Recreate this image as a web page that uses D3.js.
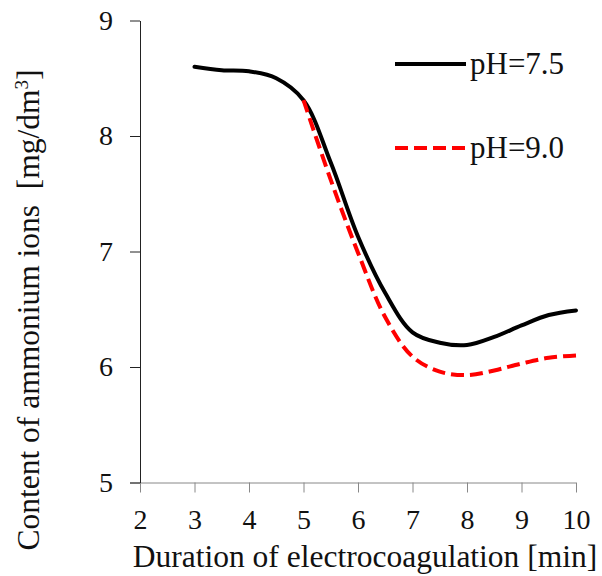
<!DOCTYPE html>
<html lang="en">
<head>
  <meta charset="UTF-8">
  <title>Ammonium ions vs electrocoagulation time</title>
  <script src="https://d3js.org/d3.v7.min.js"></script>
  <style>
    body { margin: 0; background: #fff; }
  </style>
</head>
<body>
<svg id="chart" width="602" height="576"></svg>
<script>
  // data
  const xTicks = [2, 3, 4, 5, 6, 7, 8, 9, 10];
  const yTicks = [5, 6, 7, 8, 9];
  const timeA = [3, 3.5, 4, 4.5, 5, 5.5, 6, 6.5, 7, 7.5, 8, 8.5, 9, 9.5, 10];
  const ph75 = [8.60, 8.57, 8.56, 8.50, 8.31, 7.77, 7.13, 6.64, 6.30, 6.21, 6.19, 6.26, 6.36, 6.45, 6.49];
  const timeB = [5, 5.5, 6, 6.5, 7, 7.5, 8, 8.5, 9, 9.5, 10];
  const ph90 = [8.31, 7.62, 6.99, 6.43, 6.09, 5.96, 5.93, 5.97, 6.03, 6.08, 6.10];
  const seriesNames = ["pH=7.5", "pH=9.0"];

  const FONT = "Liberation Serif";

  const svg = d3.select("#chart");
  const margin = { top: 20.5, right: 26, bottom: 93.5, left: 140 };
  const width = 602 - margin.left - margin.right;
  const height = 576 - margin.top - margin.bottom;

  const x = d3.scaleLinear().domain([2, 10]).range([0, width]);
  const y = d3.scaleLinear().domain([5, 9]).range([height, 0]);

  const g = svg.append("g")
    .attr("transform", "translate(" + margin.left + "," + margin.top + ")");

  // x axis, ticks point down
  const xAxis = g.append("g")
    .attr("transform", "translate(0," + height + ")")
    .call(d3.axisBottom(x).tickValues(xTicks).tickFormat(d3.format("d"))
      .tickSize(10).tickPadding(17).tickSizeOuter(0));
  xAxis.select(".domain").attr("stroke", "#888").attr("d", "M-10,0.5H" + width);
  xAxis.selectAll(".tick line").attr("stroke", "#888");

  // y axis
  const yAxis = g.append("g")
    .call(d3.axisLeft(y).tickValues(yTicks).tickFormat(d3.format("d"))
      .tickSize(10).tickPadding(17).tickSizeOuter(0));
  yAxis.select(".domain").attr("stroke", "#222");
  yAxis.selectAll(".tick line").attr("stroke", "#222");

  g.selectAll(".tick text")
    .attr("font-family", FONT)
    .attr("font-size", 28)
    .attr("fill", "#111");

  const line = d3.line()
    .x(d => x(d[0]))
    .y(d => y(d[1]))
    .curve(d3.curveCatmullRom.alpha(0.5));

  g.append("path")
    .datum(d3.zip(timeA, ph75))
    .attr("fill", "none")
    .attr("stroke", "#000")
    .attr("stroke-width", 4)
    .attr("stroke-linecap", "round")
    .attr("d", line);

  g.append("path")
    .datum(d3.zip(timeB, ph90))
    .attr("fill", "none")
    .attr("stroke", "#ff0000")
    .attr("stroke-width", 4)
    .attr("stroke-dasharray", "13,6")
    .attr("d", line);

  // legend
  const legend = svg.append("g");
  const legendStyles = [
    { color: "#000", dash: null, y: 64 },
    { color: "#ff0000", dash: "13,6", y: 148 }
  ];
  seriesNames.forEach((name, i) => {
    const s = legendStyles[i];
    legend.append("line")
      .attr("x1", 395).attr("x2", 466)
      .attr("y1", s.y).attr("y2", s.y)
      .attr("stroke", s.color)
      .attr("stroke-width", 4)
      .attr("stroke-dasharray", s.dash);
    legend.append("text")
      .attr("x", 470).attr("y", s.y + 10)
      .attr("font-family", FONT)
      .attr("font-size", 31)
      .attr("fill", "#111")
      .text(name);
  });

  // axis titles
  svg.append("text")
    .attr("x", 365).attr("y", 567)
    .attr("text-anchor", "middle")
    .attr("font-family", FONT)
    .attr("font-size", 31.5)
    .attr("fill", "#111")
    .text("Duration of electrocoagulation [min]");

  const yt = svg.append("text")
    .attr("transform", "translate(39,310) rotate(-90)")
    .attr("text-anchor", "middle")
    .attr("font-family", FONT)
    .attr("font-size", 31.5)
    .attr("fill", "#111")
    .style("white-space", "pre");
  yt.append("tspan").text("Content of ammonium ions  [mg/dm");
  yt.append("tspan").attr("dy", -11).attr("font-size", 19).text("3");
  yt.append("tspan").attr("dy", 11).text("]");
</script>
</body>
</html>
